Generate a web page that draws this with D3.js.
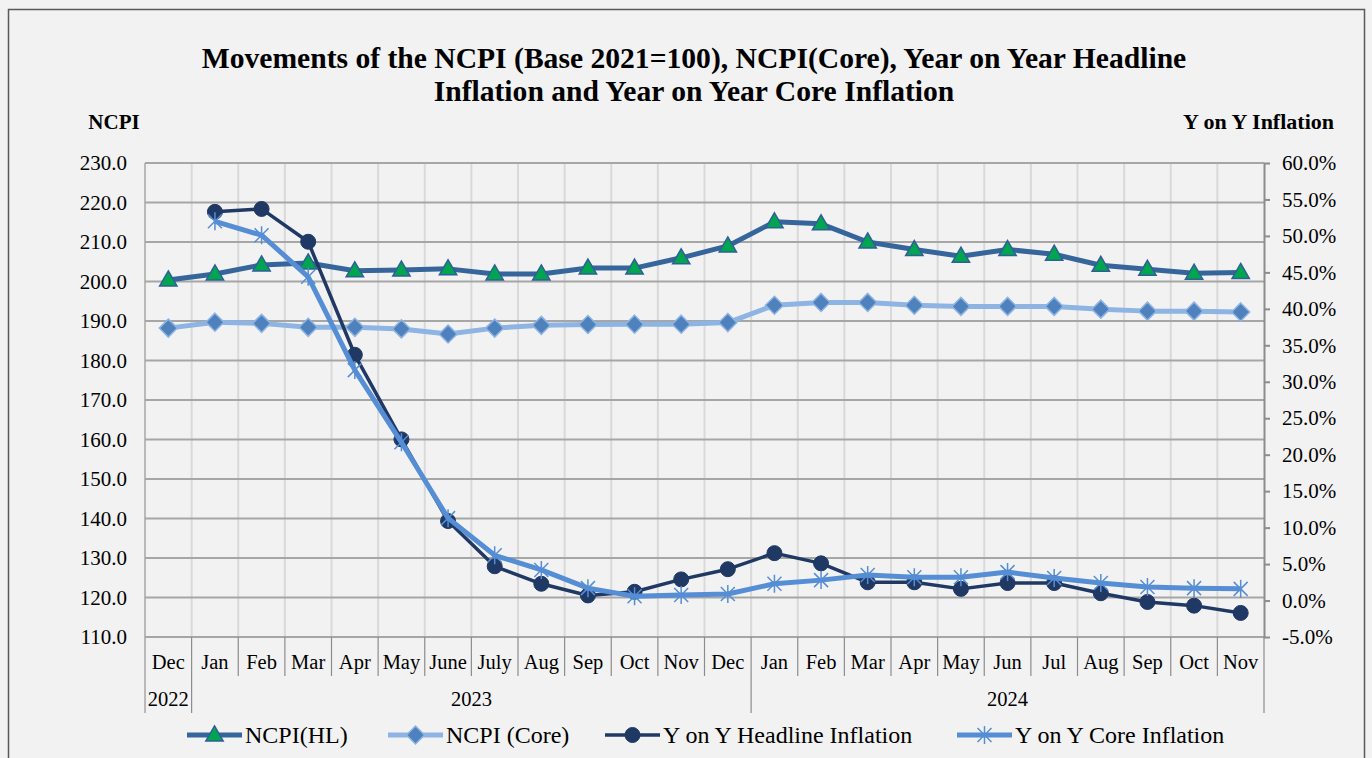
<!DOCTYPE html>
<html>
<head>
<meta charset="utf-8">
<script src="https://cdn.jsdelivr.net/npm/d3@7"></script>
<style>
  body { margin: 0; background: #f2f2f2; }
  svg text { font-family: "Liberation Serif", "Times New Roman", serif; fill: #000; }
</style>
</head>
<body>
<div id="chart"></div>
<script>
  // Data

  var months = ["Dec", "Jan", "Feb", "Mar", "Apr", "May", "June", "July", "Aug", "Sep", "Oct", "Nov",
                "Dec", "Jan", "Feb", "Mar", "Apr", "May", "Jun", "Jul", "Aug", "Sep", "Oct", "Nov"];
  var years = [
    {year: "2022", from: 0, to: 0},
    {year: "2023", from: 1, to: 12},
    {year: "2024", from: 13, to: 23}
  ];

  var ncpiHL = [200.4, 201.9, 204.2, 204.7, 202.7, 202.9, 203.2, 201.9, 201.9, 203.4, 203.4, 206.0,
                209.0, 215.1, 214.6, 210.0, 208.1, 206.4, 208.1, 206.9, 204.1, 203.1, 202.1, 202.3];
  var ncpiCore = [188.2, 189.7, 189.4, 188.4, 188.4, 188.0, 186.7, 188.2, 188.9, 189.1, 189.2, 189.2,
                  189.6, 194.0, 194.7, 194.7, 194.0, 193.7, 193.7, 193.7, 193.0, 192.5, 192.5, 192.3];
  // y on y series start in Jan 2023 (null for Dec 2022)
  var yoyHL = [null, 53.3, 53.7, 49.2, 33.7, 22.1, 10.9, 4.7, 2.3, 0.7, 1.2, 2.9,
               4.3, 6.5, 5.1, 2.5, 2.5, 1.6, 2.4, 2.4, 1.0, -0.2, -0.7, -1.7];
  var yoyCore = [null, 52.0, 50.1, 44.4, 31.6, 21.7, 11.3, 6.2, 4.2, 1.7, 0.6, 0.75,
                 0.9, 2.3, 2.8, 3.5, 3.2, 3.2, 3.9, 3.1, 2.4, 1.85, 1.7, 1.6];

  var leftTicks = [110, 120, 130, 140, 150, 160, 170, 180, 190, 200, 210, 220, 230];
  var rightTicks = [-5, 0, 5, 10, 15, 20, 25, 30, 35, 40, 45, 50, 55, 60];

  var width = 1372, height = 758;
  var plot = {left: 145, right: 1264, top: 163, bottom: 637};

  var svg = d3.select("#chart")
      .append("svg")
      .attr("width", width)
      .attr("height", height);

  // outer border
  svg.append("rect")
      .attr("x", 8.5).attr("y", 9.5)
      .attr("width", 1356).attr("height", 800)
      .attr("fill", "#f2f2f2")
      .attr("stroke", "#595959")
      .attr("stroke-width", 1.5);

  // Scales

  var x = d3.scaleBand()
      .domain(d3.range(months.length))
      .range([plot.left, plot.right])
      .padding(0);

  var yLeft = d3.scaleLinear()
      .domain([110, 230])
      .range([plot.bottom, plot.top]);

  var yRight = d3.scaleLinear()
      .domain([-5, 60])
      .range([plot.bottom, plot.top]);

  var cx = function(i) { return x(i) + x.bandwidth() / 2; };

  // Grid

  svg.append("g")
      .selectAll("line")
      .data(d3.range(1, months.length))
      .enter().append("line")
      .attr("x1", d => x(d)).attr("x2", d => x(d))
      .attr("y1", plot.top).attr("y2", plot.bottom)
      .attr("stroke", "#d9d9d9")
      .attr("stroke-width", 2);

  svg.append("g")
      .selectAll("line")
      .data(leftTicks)
      .enter().append("line")
      .attr("x1", plot.left).attr("x2", plot.right)
      .attr("y1", d => yLeft(d)).attr("y2", d => yLeft(d))
      .attr("stroke", "#a6a6a6")
      .attr("stroke-width", 2);

  // left edge
  svg.append("line")
      .attr("x1", plot.left).attr("x2", plot.left)
      .attr("y1", plot.top).attr("y2", 713)
      .attr("stroke", "#a6a6a6")
      .attr("stroke-width", 1.5);

  // Axes

  var leftAxis = svg.append("g")
      .attr("transform", `translate(${plot.left}, 0)`)
      .call(d3.axisLeft(yLeft).tickValues(leftTicks).tickSize(0).tickPadding(18)
            .tickFormat(d => d.toFixed(1)));
  leftAxis.select(".domain").remove();
  leftAxis.selectAll("text")
      .attr("font-size", "21px")
      .attr("font-family", "Liberation Serif");

  var rightAxis = svg.append("g")
      .attr("transform", `translate(${plot.right}, 0)`)
      .call(d3.axisRight(yRight).tickValues(rightTicks).tickSize(6).tickSizeOuter(0).tickPadding(12)
            .tickFormat(d => d.toFixed(1) + "%"));
  rightAxis.select(".domain").attr("stroke", "#8c8c8c").attr("stroke-width", 2);
  rightAxis.selectAll(".tick line").attr("stroke", "#8c8c8c").attr("stroke-width", 2);
  rightAxis.selectAll("text")
      .attr("font-size", "21px")
      .attr("font-family", "Liberation Serif");

  // Category axis: month row + year row

  var xAxis = svg.append("g");
  xAxis.selectAll(".sep")
      .data(d3.range(1, months.length + 1))
      .enter().append("line")
      .attr("x1", d => x(d) === undefined ? plot.right : x(d))
      .attr("x2", d => x(d) === undefined ? plot.right : x(d))
      .attr("y1", plot.bottom)
      .attr("y2", function(d) {
        var isYear = years.some(y => y.to + 1 === d);
        return isYear ? 713 : 676;
      })
      .attr("stroke", "#8c8c8c")
      .attr("stroke-width", 1.2);

  xAxis.selectAll(".month")
      .data(months)
      .enter().append("text")
      .attr("x", (d, i) => cx(i))
      .attr("y", 669)
      .attr("text-anchor", "middle")
      .attr("font-size", "20.5px")
      .text(d => d);

  xAxis.selectAll(".year")
      .data(years)
      .enter().append("text")
      .attr("x", d => (cx(d.from) + cx(d.to)) / 2)
      .attr("y", 706)
      .attr("text-anchor", "middle")
      .attr("font-size", "20.5px")
      .text(d => d.year);

  // Titles

  var title = svg.append("text")
      .attr("x", 694)
      .attr("text-anchor", "middle")
      .attr("font-size", "29.6px")
      .attr("font-weight", "bold");
  title.append("tspan").attr("x", 694).attr("y", 68)
      .text("Movements of the NCPI (Base 2021=100), NCPI(Core), Year on Year Headline");
  title.append("tspan").attr("x", 694).attr("y", 101)
      .text("Inflation and Year on Year Core Inflation");

  svg.append("text")
      .attr("x", 114).attr("y", 129)
      .attr("text-anchor", "middle")
      .attr("font-size", "21px")
      .attr("font-weight", "bold")
      .text("NCPI");

  svg.append("text")
      .attr("x", 1334).attr("y", 129)
      .attr("text-anchor", "end")
      .attr("font-size", "22px")
      .attr("font-weight", "bold")
      .text("Y on Y Inflation");

  // Series

  var series = [
    {name: "NCPI(HL)", values: ncpiHL, scale: yLeft, line: "#35659b", width: 5, marker: "triangle",
     fill: "#00a54f", stroke: "#2f5f98"},
    {name: "NCPI (Core)", values: ncpiCore, scale: yLeft, line: "#8db4e2", width: 5, marker: "diamond",
     fill: "#4f81bd", stroke: "#8db4e2"},
    {name: "Y on Y Headline Inflation", values: yoyHL, scale: yRight, line: "#1f3864", width: 3.5, marker: "circle",
     fill: "#1f3864", stroke: "#1f3864"},
    {name: "Y on Y Core Inflation", values: yoyCore, scale: yRight, line: "#558ed5", width: 5, marker: "asterisk",
     fill: "none", stroke: "#558ed5"}
  ];

  function drawMarker(g, type, s) {
    if (type === "triangle") {
      g.append("path")
        .attr("d", d3.symbol(d3.symbolTriangle, 130)())
        .attr("transform", "translate(0,1)")
        .attr("fill", s.fill).attr("stroke", s.stroke).attr("stroke-width", 1.5);
    } else if (type === "diamond") {
      g.append("path")
        .attr("d", "M0,-9L9,0L0,9L-9,0Z")
        .attr("fill", s.fill).attr("stroke", s.stroke).attr("stroke-width", 1.5);
    } else if (type === "circle") {
      g.append("circle")
        .attr("r", 7.5)
        .attr("fill", s.fill).attr("stroke", s.stroke).attr("stroke-width", 1);
    } else {
      g.append("path")
        .attr("d", "M-7,-7L7,7M-7,7L7,-7M0,-9L0,9")
        .attr("fill", "none").attr("stroke", s.stroke).attr("stroke-width", 1.5);
    }
  }

  series.forEach(function(s) {
    var line = d3.line()
        .defined(d => d !== null)
        .x((d, i) => cx(i))
        .y(d => s.scale(d));

    svg.append("path")
        .datum(s.values)
        .attr("fill", "none")
        .attr("stroke", s.line)
        .attr("stroke-width", s.width)
        .attr("stroke-linejoin", "round")
        .attr("d", line);

    var pts = s.values.map((v, i) => ({v: v, i: i})).filter(d => d.v !== null);
    svg.append("g")
        .selectAll("g")
        .data(pts)
        .enter().append("g")
        .attr("transform", d => `translate(${cx(d.i)}, ${s.scale(d.v)})`)
        .each(function() { drawMarker(d3.select(this), s.marker, s); });
  });

  // Legend

  var legendX = [187, 388, 605, 957];
  var legend = svg.selectAll(".legend")
      .data(series)
      .enter().append("g")
      .attr("class", "legend")
      .attr("transform", (d, i) => `translate(${legendX[i]}, 735)`);

  legend.append("line")
      .attr("x1", 0).attr("x2", 55)
      .attr("stroke", d => d.line)
      .attr("stroke-width", d => d.width);

  legend.append("g")
      .attr("transform", "translate(27.5, 0)")
      .each(function(d) { drawMarker(d3.select(this), d.marker, d); });

  legend.append("text")
      .attr("x", 58)
      .attr("y", 8)
      .attr("font-size", "24px")
      .text(d => d.name);
</script>
</body>
</html>
